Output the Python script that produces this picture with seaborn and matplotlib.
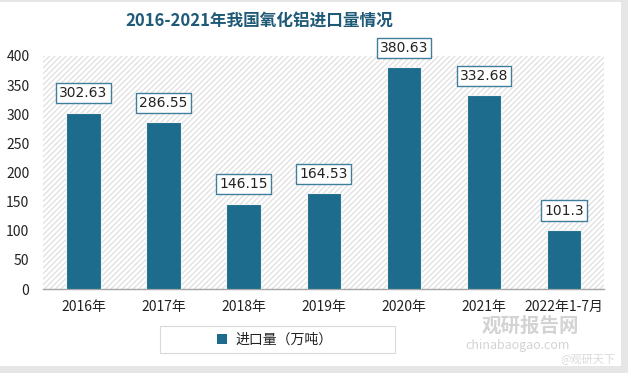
import matplotlib
matplotlib.use("Agg")
import matplotlib.pyplot as plt
import seaborn as sns
import pandas as pd
from matplotlib.patches import Rectangle, Patch

categories = ["2016年", "2017年", "2018年", "2019年", "2020年", "2021年", "2022年1-7月"]
values = [302.63, 286.55, 146.15, 164.53, 380.63, 332.68, 101.3]
value_labels = ["302.63", "286.55", "146.15", "164.53", "380.63", "332.68", "101.3"]
series_name = "进口量（万吨）"
title = "2016-2021年我国氧化铝进口量情况"

sns.set_theme(style="white")
plt.rcParams['font.family'] = ['Noto Sans CJK SC', 'DejaVu Sans']
plt.rcParams['hatch.color'] = '#dcdcdc'
plt.rcParams['hatch.linewidth'] = 0.8

df = pd.DataFrame({"cat": categories, "val": values, "series": series_name})

W, H = 628, 373
fig = plt.figure(figsize=(W / 100, H / 100), dpi=100, facecolor='#e6e6e6')
# white card
fig.patches.append(Rectangle((0, 7 / H), 621 / W, 364 / H, transform=fig.transFigure,
                             facecolor='white', edgecolor='none', zorder=-5))

ax = fig.add_axes([0.069, 0.225, 0.893, 0.625])
ax.set_facecolor('none')
ax.set_zorder(2)

bg = Rectangle((0, 0), 1, 1, transform=ax.transAxes, facecolor='white',
               edgecolor='#dcdcdc', hatch='//////', linewidth=0, zorder=0)
ax.add_patch(bg)

bar_color = '#1d6b8d'
sns.barplot(data=df, x="cat", y="val", hue="series", palette=[bar_color],
            width=0.43, ax=ax, zorder=3, saturation=1, legend=False)

bars = [p for p in ax.patches if isinstance(p, Rectangle) and p is not bg and p.get_height() > 0]
for p, lab in zip(bars, value_labels):
    p.set_edgecolor('#f2f2f2')
    p.set_linewidth(0.8)
    x = p.get_x() + p.get_width() / 2
    h = p.get_height()
    ax.annotate(lab, (x, h), xytext=(0, 9), textcoords='offset points',
                ha='center', va='bottom', fontsize=10, color='#222222',
                family=['DejaVu Sans'],
                bbox=dict(boxstyle='square,pad=0.22', facecolor='white',
                          edgecolor='#3f7f9c', linewidth=1.0), zorder=5)

ax.set_ylim(0, 400)
ax.set_yticks(range(0, 401, 50))
ax.set_xlim(-0.5, len(categories) - 0.5)
ax.set_xlabel("")
ax.set_ylabel("")
ax.tick_params(axis='y', labelsize=10, colors='#222222', length=0, pad=10)
ax.tick_params(axis='x', labelsize=10, colors='#222222', length=0, pad=8)
for s in ['top', 'right', 'left']:
    ax.spines[s].set_visible(False)
ax.spines['bottom'].set_color('#a6a6a6')
ax.spines['bottom'].set_linewidth(1.0)

# legend frame (wide box) and entry
fig.patches.append(Rectangle((160 / W, 1 - 353 / H), 235 / W, 27 / H,
                             transform=fig.transFigure, facecolor='white',
                             edgecolor='#d9d9d9', linewidth=0.8, zorder=1))
leg = fig.legend(handles=[Patch(facecolor=bar_color, edgecolor='none', label=series_name)],
                 loc='center', bbox_to_anchor=(275 / W, 1 - 339.5 / H),
                 frameon=False, fontsize=10, handlelength=0.7, handleheight=0.7,
                 handletextpad=0.6)
leg.set_zorder(6)
for t in leg.get_texts():
    t.set_color('#222222')

fig.text(259 / W, 1 - 22 / H, title, ha='center', va='center', fontsize=12,
         fontweight='bold', color='#1f5a78')

# faint watermark
fig.text(530 / W, 1 - 326 / H, "观研报告网", ha='center', va='center', fontsize=14,
         fontweight='bold', color='#c8c8c8', alpha=0.8)
fig.text(518 / W, 1 - 345 / H, "chinabaogao.com", ha='center', va='center', fontsize=9,
         color='#c8c8c8', alpha=0.8)
fig.text(588 / W, 1 - 359 / H, "@观研天下", ha='center', va='center', fontsize=8,
         color='#d0d0d0', alpha=0.8)

fig.savefig("out.png", dpi=100, facecolor=fig.get_facecolor())
